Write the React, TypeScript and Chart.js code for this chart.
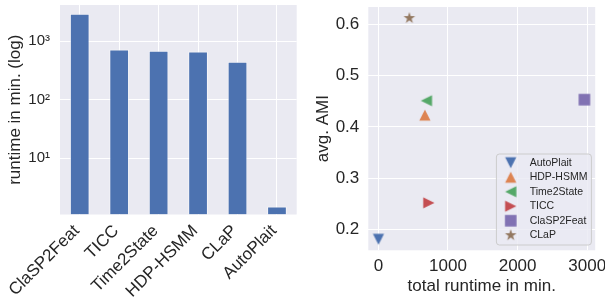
import React, { useEffect, useRef } from 'react';
import { Chart, registerables } from 'chart.js';

Chart.register(...registerables);

// ---- data ----
const barMethods = ['ClaSP2Feat', 'TICC', 'Time2State', 'HDP-HSMM', 'CLaP', 'AutoPlait'];
const barRuntimes = [2960, 725, 690, 668, 445, 1.5];
const logTickValues = [10, 100, 1000];
const logTickLabels = ['10¹', '10²', '10³'];

const scatterMethods = ['AutoPlait', 'HDP-HSMM', 'Time2State', 'TICC', 'ClaSP2Feat', 'CLaP'];
const scatterRuntimes = [1.5, 668, 690, 725, 2960, 445];
const scatterAMI = [0.181, 0.423, 0.451, 0.252, 0.453, 0.612];
const scatterColors = ['#4c72b0', '#dd8452', '#55a868', '#c44e52', '#8172b3', '#937860'];
const scatterMarkers = ['v', '^', '<', '>', 's', '*'];
const xTickValues = [0, 1000, 2000, 3000];
const yTickValues = [0.2, 0.3, 0.4, 0.5, 0.6];

const FONT = '"Liberation Sans", Arial, sans-serif';
const TEXT = '#262626';
const PLOT_BG = '#eaeaf2';

function makeMarker(kind: string, color: string): HTMLCanvasElement {
  const size = 16;
  const c = document.createElement('canvas');
  c.width = size;
  c.height = size;
  const ctx = c.getContext('2d') as CanvasRenderingContext2D;
  const m = size / 2;
  const h = 5.6;
  ctx.fillStyle = color;
  ctx.beginPath();
  if (kind === 'v') {
    ctx.moveTo(m - h, m - h); ctx.lineTo(m + h, m - h); ctx.lineTo(m, m + h);
  } else if (kind === '^') {
    ctx.moveTo(m, m - h); ctx.lineTo(m + h, m + h); ctx.lineTo(m - h, m + h);
  } else if (kind === '<') {
    ctx.moveTo(m - h, m); ctx.lineTo(m + h, m - h); ctx.lineTo(m + h, m + h);
  } else if (kind === '>') {
    ctx.moveTo(m + h, m); ctx.lineTo(m - h, m - h); ctx.lineTo(m - h, m + h);
  } else if (kind === 's') {
    const s = 5.8;
    ctx.rect(m - s, m - s, 2 * s, 2 * s);
  } else {
    const R = 6.1;
    const r = R * 0.381966;
    for (let i = 0; i < 10; i++) {
      const rad = i % 2 === 0 ? R : r;
      const a = -Math.PI / 2 + (i * Math.PI) / 5;
      const x = m + rad * Math.cos(a);
      const y = m + rad * Math.sin(a);
      if (i === 0) ctx.moveTo(x, y); else ctx.lineTo(x, y);
    }
  }
  ctx.closePath();
  ctx.fill();
  return c;
}

const plotBgPlugin = {
  id: 'plotBg',
  beforeDraw(chart: any) {
    const { ctx, chartArea } = chart;
    ctx.save();
    ctx.fillStyle = PLOT_BG;
    ctx.fillRect(chartArea.left, chartArea.top, chartArea.right - chartArea.left, chartArea.bottom - chartArea.top);
    ctx.restore();
  },
};

const legendPlugin = {
  id: 'boxLegend',
  afterDatasetsDraw(chart: any) {
    const { ctx, chartArea } = chart;
    const right = chartArea.right - 3.8;
    const bottom = chartArea.bottom - 5.3;
    const w = 95;
    const h = 91;
    const left = right - w;
    const top = bottom - h;
    ctx.save();
    ctx.beginPath();
    const rr = 3;
    ctx.moveTo(left + rr, top);
    ctx.arcTo(right, top, right, bottom, rr);
    ctx.arcTo(right, bottom, left, bottom, rr);
    ctx.arcTo(left, bottom, left, top, rr);
    ctx.arcTo(left, top, right, top, rr);
    ctx.closePath();
    ctx.fillStyle = 'rgba(234,234,242,0.8)';
    ctx.fill();
    ctx.strokeStyle = '#cccccc';
    ctx.lineWidth = 1;
    ctx.stroke();
    ctx.font = `10.5px ${FONT}`;
    ctx.fillStyle = TEXT;
    ctx.textBaseline = 'middle';
    ctx.textAlign = 'left';
    chart.data.datasets.forEach((ds: any, i: number) => {
      const y = top + 8.7 + i * 14.5;
      const img = ds.pointStyle as HTMLCanvasElement;
      ctx.drawImage(img, left + 14.3 - img.width / 2, y - img.height / 2);
      ctx.fillText(ds.label, left + 33.3, y);
    });
    ctx.restore();
  },
};

function zeroPad(scale: any) {
  scale.paddingLeft = 0;
  scale.paddingRight = 0;
  scale.paddingTop = 0;
  scale.paddingBottom = 0;
}

export default function App() {
  const leftRef = useRef<HTMLCanvasElement>(null);
  const rightRef = useRef<HTMLCanvasElement>(null);

  useEffect(() => {
    const bar = new Chart(leftRef.current as HTMLCanvasElement, {
      type: 'bar',
      data: {
        labels: barMethods,
        datasets: [
          {
            data: barRuntimes,
            backgroundColor: '#4c72b0',
            borderColor: 'rgba(255,255,255,0.55)',
            borderWidth: 1,
            barPercentage: 0.5,
            categoryPercentage: 1,
          },
        ],
      },
      options: {
        responsive: false,
        animation: false,
        devicePixelRatio: 1,
        layout: { padding: { left: 0, right: 3.3, top: 5, bottom: 0 } },
        plugins: { legend: { display: false }, tooltip: { enabled: false } },
        scales: {
          x: {
            type: 'category',
            offset: true,
            grid: { color: '#ffffff', lineWidth: 1, drawTicks: false, offset: false },
            border: { display: false },
            ticks: {
              color: TEXT,
              font: { family: FONT, size: 17 },
              minRotation: 45,
              maxRotation: 45,
              autoSkip: false,
              padding: 6.5,
              labelOffset: -3,
            },
            afterFit(scale: any) {
              scale.height = 88.5;
              zeroPad(scale);
            },
          },
          y: {
            type: 'logarithmic',
            min: 1.094,
            max: 4174,
            afterBuildTicks(scale: any) {
              scale.ticks = logTickValues.map((v) => ({ value: v }));
            },
            grid: { color: '#ffffff', lineWidth: 1, drawTicks: false },
            border: { display: false },
            ticks: {
              color: TEXT,
              font: { family: FONT, size: 15 },
              padding: 10,
              callback: (v: any) => {
                const i = logTickValues.indexOf(Number(v));
                return i >= 0 ? logTickLabels[i] : '';
              },
            },
            title: {
              display: true,
              text: 'runtime in min. (log)',
              color: TEXT,
              font: { family: FONT, size: 17 },
              padding: { top: 4.8, bottom: 0 },
            },
            afterFit(scale: any) {
              scale.width = 60;
              zeroPad(scale);
            },
          },
        },
      },
      plugins: [plotBgPlugin],
    } as any);

    const scatter = new Chart(rightRef.current as HTMLCanvasElement, {
      type: 'scatter',
      data: {
        datasets: scatterMethods.map((name, i) => ({
          label: name,
          data: [{ x: scatterRuntimes[i], y: scatterAMI[i] }],
          pointStyle: makeMarker(scatterMarkers[i], scatterColors[i]),
          pointRadius: 6,
          backgroundColor: scatterColors[i],
          borderColor: scatterColors[i],
        })),
      },
      options: {
        responsive: false,
        animation: false,
        devicePixelRatio: 1,
        layout: { padding: { left: 0, right: 9.8, top: 4.3, bottom: 0 } },
        plugins: { legend: { display: false }, tooltip: { enabled: false } },
        scales: {
          x: {
            type: 'linear',
            min: -145,
            max: 3115,
            afterBuildTicks(scale: any) {
              scale.ticks = xTickValues.map((v) => ({ value: v }));
            },
            grid: { color: '#ffffff', lineWidth: 1, drawTicks: false },
            border: { display: false },
            ticks: {
              color: TEXT,
              font: { family: FONT, size: 17 },
              padding: 6,
              callback: (v: any) => String(v),
            },
            title: {
              display: true,
              text: 'total runtime in min.',
              color: TEXT,
              font: { family: FONT, size: 17 },
              padding: { top: 0, bottom: 6.8 },
            },
            afterFit(scale: any) {
              scale.height = 52.7;
              zeroPad(scale);
            },
          },
          y: {
            type: 'linear',
            min: 0.1595,
            max: 0.6336,
            afterBuildTicks(scale: any) {
              scale.ticks = yTickValues.map((v) => ({ value: v }));
            },
            grid: { color: '#ffffff', lineWidth: 1, drawTicks: false },
            border: { display: false },
            ticks: {
              color: TEXT,
              font: { family: FONT, size: 17 },
              padding: 9,
              callback: (v: any) => Number(v).toFixed(1),
            },
            title: {
              display: true,
              text: 'avg. AMI',
              color: TEXT,
              font: { family: FONT, size: 17 },
              padding: { top: 13.1, bottom: 0 },
            },
            afterFit(scale: any) {
              scale.width = 68.3;
              zeroPad(scale);
            },
          },
        },
      },
      plugins: [plotBgPlugin, legendPlugin],
    } as any);

    return () => {
      bar.destroy();
      scatter.destroy();
    };
  }, []);

  return (
    <div
      style={{
        position: 'fixed',
        left: 0,
        top: 0,
        width: 605,
        height: 303,
        background: '#ffffff',
        overflow: 'hidden',
      }}
    >
      <canvas
        ref={leftRef}
        width={300}
        height={303}
        style={{ position: 'absolute', left: 0, top: 0, width: 300, height: 303 }}
      />
      <canvas
        ref={rightRef}
        width={305}
        height={303}
        style={{ position: 'absolute', left: 300, top: 0, width: 305, height: 303 }}
      />
    </div>
  );
}
